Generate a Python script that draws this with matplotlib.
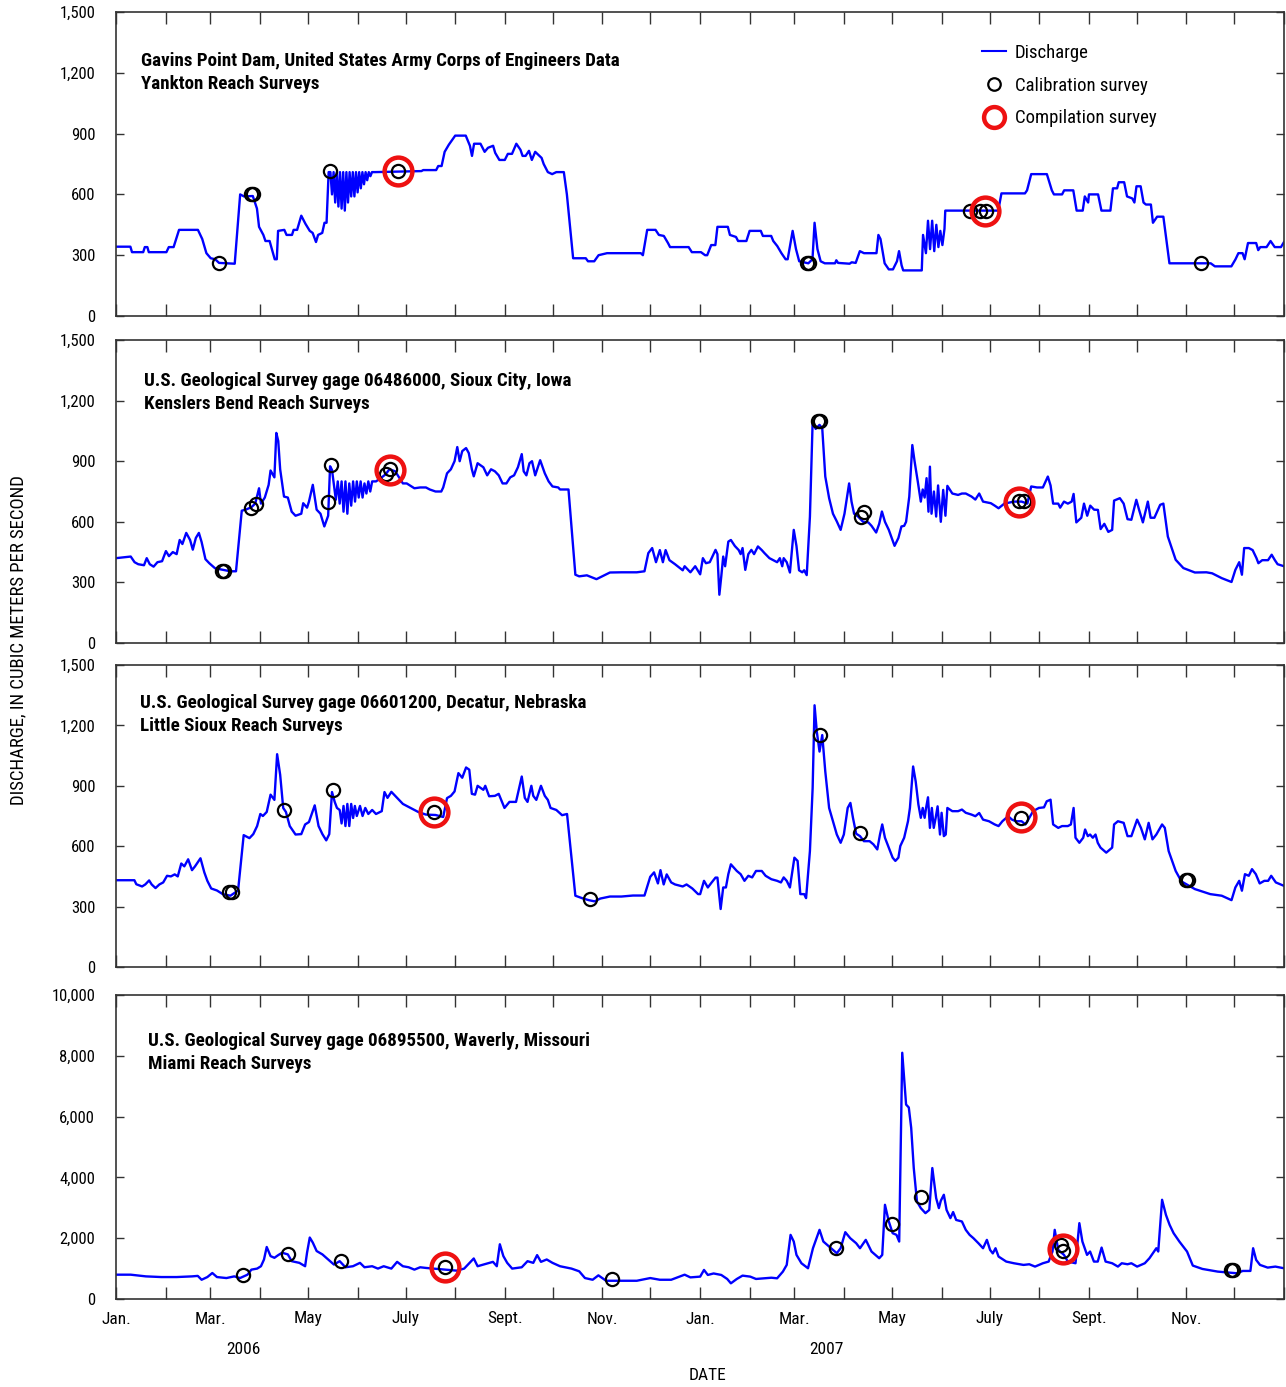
import numpy as np
import pandas as pd
import matplotlib
matplotlib.use('Agg')
import matplotlib.pyplot as plt
import matplotlib.dates as mdates
from matplotlib.lines import Line2D
from matplotlib.ticker import FuncFormatter, MultipleLocator

plt.rcParams['font.family'] = ['Liberation Sans Narrow', 'Roboto Condensed', 'DejaVu Sans']
plt.rcParams['font.stretch'] = 'condensed'

START = pd.Timestamp('2006-01-01')

# days counted from 1 Jan 2006, discharge in m3/s
gavins_day = [0, 9, 10, 17, 18, 19.6, 20.5, 31.5, 33, 36, 39.4, 51.2, 53.9, 56.5, 59.2, 62, 64.4, 74.2, 77.6, 80, 85.5,
              88.1, 89.4, 92.1, 93.4, 96, 97.4, 99.2, 100.5, 101.3, 105.2, 106.6, 110, 111, 113.2, 115.8, 118.4, 121.1,
              122.9, 125, 126.3, 128.9, 130.3, 131.6, 132.9,
              134, 135, 136, 137, 138, 139, 140, 141, 142, 143, 144, 145, 146, 147, 148, 149, 150, 151, 152, 153, 154,
              155, 156, 157, 158, 159, 160,
              161.9, 190.9, 192, 200.1, 201.4, 203.5, 205.4, 208, 212, 218.6, 221.2, 222.5, 223.8, 227.8, 230.4, 232.5,
              235.7, 237, 239.6, 243, 244.9, 247.5, 250.2, 252.8, 254.1, 256, 258.1, 259.9, 262, 266, 267.3, 269.9,
              272.6, 275.2, 279.9, 281.8, 285.7, 293.6, 295, 298.9, 301.6, 306.9, 328, 329.3,
              332, 337.2, 339.3, 342.4, 345, 346.3, 357.9, 359.9, 365.6, 368.2, 369.5, 372, 374.6, 375.9, 382.4, 383.7,
              387.5, 388.8, 394, 396, 403, 404.3, 409.5, 410.8, 413.3, 415.9, 418.5, 419.8, 422.9, 425, 427, 432.7,
              435.3, 436.6, 438.4, 440.4, 443, 449.4, 450.2, 451.3, 458.5, 459.8, 462.3, 464.9, 467.5, 475.3, 476.5,
              477.8, 480.4, 483, 485.6, 488.1, 489.4, 491, 492, 503.6, 504.4, 506.2, 507.5, 508.8, 510.1, 511.4, 512.7,
              514, 515.2, 516.5, 517.8, 518.3, 551.4, 553.4, 568.1, 569.4, 572, 581.8, 584.9, 586.2, 591.3, 592.6,
              598.3, 600.4, 604.2, 605.5, 607.6, 608.1, 613.8, 615.9, 621.5, 623.1, 625.7, 626.7, 630.1, 631.9, 635.2,
              636.5, 637.8, 640.4, 642.2, 643.7, 646.8, 648.1, 650.7, 654.6, 658.4, 684.2, 686.8, 697.1, 699.7, 701.5,
              704.1, 705.4, 707.5, 712.6, 713.9, 715.2, 719.1, 721.6, 724.2, 728.1, 730]
gavins_q = [342, 342, 315, 315, 340, 340, 315, 315, 340, 340, 425, 425, 380, 310, 285, 280, 262, 258, 600, 590, 592,
            530, 440, 400, 370, 370, 330, 280, 280, 420, 425, 400, 400, 425, 425, 495, 455, 420,
            410, 365, 400, 410, 460, 460, 710,
            710, 600, 710, 560, 710, 540, 710, 530, 710, 520, 710, 560, 710, 590, 710, 590, 710, 610, 710, 630, 710,
            650, 710, 670, 710, 690, 710,
            710, 715, 720, 720, 740, 740, 810, 845, 890, 890, 840, 790, 850, 850, 810, 830,
            840, 805, 770, 770, 800, 800, 850, 820, 790, 790, 815, 770, 810, 780, 750, 710,
            700, 710, 710, 600, 285, 285, 270, 270, 300, 310, 310, 300,
            425, 425, 400, 395, 360, 340, 340, 315, 315, 300, 300, 350, 350, 440, 440, 400,
            390, 370, 370, 420, 420, 395, 395, 370, 345, 310, 280, 280, 420, 330, 270, 260,
            280, 460, 330, 270, 260, 260, 275, 262, 258, 265, 262, 320, 310, 310, 400,
            380, 260, 230, 230, 270, 320, 250, 225, 225, 400, 310, 470, 330, 470, 320, 450,
            340, 420, 350, 430, 520, 520, 605, 605, 620, 700, 700, 620, 600, 600, 620,
            620, 520, 520, 590, 560, 600, 600, 520, 520, 630, 630, 660, 660, 590, 580,
            560, 640, 640, 560, 550, 550, 460, 490, 490, 260, 260, 245, 245, 280, 310,
            310, 280, 360, 360, 325, 340, 340, 370, 340, 340, 365]
gavins_cal_day = [64.4, 84.5, 85.5, 133.7, 176, 432, 433, 533.5, 540, 544, 678]
gavins_cal_q = [262, 600, 600, 714, 714, 262, 262, 520, 520, 520, 262]
gavins_comp_day = [176, 543]
gavins_comp_q = [714, 520]

sioux_day = [0, 9.2, 11.6, 13.9, 17.5, 19.2, 21.1, 23.5, 25.9, 28.8, 31.2, 33.1, 35.5, 37.9, 39.8, 41.5, 43.9, 46.3,
             48, 49.9, 51.8, 53.5, 55.9, 58.3, 61.9, 71.5, 75, 78.6, 81, 84.6, 87, 89.4, 90.6, 93, 95.4, 96.6, 99,
             100.2, 101.4, 102.6, 105, 107.4, 109.8, 112.2, 115.8, 117, 119.4, 120.6, 123, 125.4, 127.8, 130.2, 132.6,
             133.8, 135, 137.4, 138.6, 139.8, 141, 142.2, 143.4, 144.6, 145.8, 147, 148.2, 149.4, 150.5, 151.7, 152.9,
             154.1, 155.3, 156.5, 157.7, 158.9, 160.1, 162.5, 166.1, 168.5, 170.9, 174.5, 179.3, 181.7, 186.5, 190.1,
             193.7, 196.1, 199.7, 203.3, 204.5, 206.9, 209.3, 211.6, 213.3, 214.8, 216.4, 218.8, 220.5, 222.4, 223.6,
             226, 229.6, 232, 234.4, 236.8, 239.2, 241.6, 244, 246.4, 248.8, 251.2, 253.6, 254.8, 256.5, 258.4, 260,
             262, 265.1, 268, 270.4, 272.8, 276.4, 277.5, 281.1, 282.8, 287.1, 289.5, 294.3, 300.3, 303.9, 308.7,
             315.9, 325.5, 330.3, 332.7, 335.1, 337.5, 339.9, 341.8, 343.5, 345.9, 349.4, 354.2, 355.4, 359, 362,
             365.1, 366.8, 368.7, 371.1, 374.7, 375.9, 377.1, 378.3, 379.5, 380.7, 382.7, 384.3, 386.8, 389.2, 390.4,
             391.6, 393.3, 395.2, 397.1, 398.8, 401.2, 403.6, 405.3, 408.4, 410.8, 413.2, 414.9, 416.4, 417.3, 419.2,
             421.2, 423.6, 425.3, 426.9, 428.9, 430.1, 431.7, 433.7, 435.4, 437.3, 439.7, 441.4, 443.3, 445.7, 448.1,
             450.5, 452.9, 455.3, 458.2, 459.7, 461.3, 463.8, 466.9, 470.2, 472.2, 475.1, 477, 478.7, 480.6, 483,
             486.6, 489, 490.9, 492.6, 493.8, 495.8, 497.7, 499.1, 501.1, 503, 504.2, 505.4, 506.6, 507.8, 508.7,
             509.7, 511.2, 512.6, 513.8, 515.5, 517, 518.4, 519.6, 522.7, 526.3, 528.7, 531.1, 534.7, 537.1, 539.5,
             541.9, 546.8, 549.2, 551.6, 555.2, 561.2, 566, 569.6, 572, 575.6, 579.3, 582.4, 584.1, 585.7, 588.9,
             590.1, 592.5, 594.9, 597.3, 598.5, 600.2, 603.3, 605, 607, 608.9, 611.3, 613.7, 615.4, 617.7, 620.2,
             622.6, 623.8, 627.4, 629.8, 632.2, 634.6, 637.7, 639.4, 641.8, 644.9, 646.6, 649, 652.6, 654.6, 657.4,
             662.3, 667.1, 674.3, 681.5, 685.1, 691.1, 697.2, 699.6, 702, 703.7, 705.1, 708, 710.4, 712.8, 714,
             716.4, 720, 722.3, 724.3, 726, 730]
sioux_q = [420, 428, 400, 390, 385, 420, 390, 378, 400, 405, 455, 430, 450, 440, 510, 490, 545, 510,
           462, 520, 545, 500, 415, 395, 370, 355, 355, 655, 660, 672, 690, 766, 690, 720, 783, 854, 820,
           1040, 1000, 860, 725, 720, 650, 630, 640, 692, 670, 700, 783, 660, 640, 577, 630,
           875, 857, 709, 800, 690, 800, 650, 800, 640, 790, 680, 800, 700, 800, 720, 800,
           720, 790, 740, 800, 750, 800, 800, 820, 835, 860, 850, 790, 790, 766, 770,
           770, 760, 750, 750, 770, 840, 860, 900, 970, 900, 950, 965, 940, 860, 825,
           890, 870, 830, 860, 850, 830, 790, 790, 820, 830, 870, 935, 850, 830, 890, 900,
           830, 905, 840, 800, 775, 770, 760, 760, 760, 338, 330, 335, 316, 330, 349,
           350, 350, 355, 445, 470, 400, 460, 400, 460, 410, 390, 360, 380, 350, 380,
           340, 420, 395, 400, 461, 440, 239, 330, 428, 380, 502, 510, 480, 460, 440,
           470, 362, 440, 461, 440, 478, 460, 445, 420, 410, 400, 420, 380, 420, 400,
           349, 560, 480, 360, 350, 360, 336, 626, 1096, 1060, 1080, 1063, 824, 717, 640,
           602, 560, 640, 790, 700, 640, 626, 600, 597, 580, 547, 590, 651, 600, 560,
           481, 520, 577, 580, 600, 725, 980, 900, 800, 700, 760, 720, 816, 650, 873,
           640, 750, 626, 780, 600, 758, 630, 778, 740, 733, 740, 740, 725, 710, 740,
           700, 692, 680, 667, 690, 700, 700, 690, 775, 770, 770, 824, 780, 690, 690,
           670, 700, 690, 700, 738, 597, 620, 690, 630, 680, 660, 659, 564, 590, 550,
           560, 705, 717, 690, 613, 610, 709, 660, 597, 700, 620, 620, 684, 690, 527,
           412, 371, 349, 350, 345, 321, 302, 362, 400, 338, 470, 470, 460, 420, 395,
           410, 410, 437, 410, 390, 380]
sioux_cal_day = [66.5, 67.5, 84.5, 87.7, 132.7, 134.6, 169, 171, 439, 440.2, 465.9, 467.7, 564.2, 567.3]
sioux_cal_q = [356, 356, 668, 688, 698, 881, 837, 861, 1099, 1099, 624, 648, 703, 703]
sioux_comp_day = [171, 564.2]
sioux_comp_q = [856, 698]

decatur_day = [0, 11.5, 12.7, 16.3, 18.3, 20.7, 22.3, 24.7, 27.1, 29.5, 31.9, 34.3, 36.7, 38.6, 40.8, 42.7, 45.1,
               47.5, 49.4, 52.8, 55.2, 57.1, 59.5, 63.1, 66.7, 71.5, 76.3, 79.8, 83.4, 85.8, 88.2, 90.2, 91.8, 94.2,
               96.6, 99, 100.7, 102.6, 104.5, 106.2, 108.6, 112.2, 115.8, 118.2, 120.6, 124.2, 126.6, 129, 131.4,
               133.3, 135, 136.7, 138.1, 139.8, 141, 142.2, 143.4, 144.6, 145.8, 147, 148.2, 149.3, 150.5, 152.5,
               154.1, 155.8, 157.7, 160.1, 162.5, 166.1, 167.8, 169.7, 172.1, 175.7, 179.3, 184.1, 188.9, 193.7,
               199.7, 204.5, 206.9, 209.3, 211.6, 214, 216.4, 218.8, 220.8, 222.4, 224.4, 226, 229.6, 230.8, 233.2,
               236.8, 239.2, 242.8, 245.9, 250, 253.6, 255.5, 257.2, 259.6, 260.8, 262.7, 265.6, 268, 269.9, 271.6,
               275.2, 278.8, 281.9, 287.1, 292, 295.5, 299.1, 302.7, 308.7, 315.9, 323.1, 330.3, 333.9, 336.3, 338.7,
               340.3, 342.3, 344.2, 347, 349.4, 354.2, 356.6, 360.2, 363.8,
               365.1, 367.5, 369.9, 372.3, 374.7, 375.9, 377.9, 379.5, 381.2, 382.7, 384.3, 388, 390.4, 392.8, 395.2,
               397.6, 400, 403.6, 406, 409.6, 413.2, 415.6, 417.3, 419.2, 421.2, 424, 426, 427.7, 430.1, 431.3, 433.7,
               435.4, 436.6, 438, 439.7, 441.4, 443.3, 445.7, 448.1, 450.5, 452.9, 454.9, 457.3, 459, 460.6, 462.6,
               465, 467.4, 471, 473.4, 475.8, 477.5, 478.9, 480.6, 483, 485.4, 487.1, 489, 490.2, 492.6, 495, 496.2,
               498.2, 499.8, 501.5, 503, 504.2, 505.4, 506.3, 507.5, 508.7, 509.9, 511.1, 512.3, 513.5, 515, 516,
               517.4, 518.6, 519.6, 522.7, 526.3, 528.7, 531.1, 534.7, 537.1, 539.5, 541.9, 545.6, 549.2, 551.6, 554,
               557.6, 560, 562.4, 566, 568.4, 570.8, 573.2, 576.8, 580, 581.7, 584.1, 585.7, 588.9, 591.3, 594.9,
               596.8, 598.5, 599.7, 602.1, 604.5, 605.7, 607.4, 608.8, 610.5, 612.2, 613.6, 615.3, 618.9, 622.6,
               623.8, 626.2, 629.8, 632.2, 634.6, 638.2, 640.6, 643, 645.4, 647.8, 650.2, 653.8, 655.5, 657.9, 662.3,
               665.9, 674.3, 683.9, 691.1, 697.2, 699.6, 702, 703.7, 705.6, 708, 710, 712.4, 714.8, 717.7, 720.1, 722,
               724.9, 730]
decatur_q = [431, 431, 411, 400, 410, 430, 410, 392, 410, 420, 453, 450, 460, 450, 514, 500, 535,
             481, 500, 540, 470, 428, 390, 380, 362, 354, 380, 655, 640, 660, 700, 760, 750, 770,
             856, 830, 1057, 955, 790, 770, 700, 658, 660, 708, 720, 803, 700, 660, 629,
             660, 869, 820, 790, 780, 713, 800, 700, 810, 700, 810, 740, 800, 750, 800,
             750, 790, 760, 780, 760, 774, 869, 840, 870, 840, 810, 790, 770, 757,
             755, 745, 839, 850, 872, 963, 940, 991, 980, 860, 856, 900, 880, 900, 848,
             850, 860, 790, 820, 820, 946, 840, 820, 900, 850, 830, 900, 850, 830, 790,
             780, 754, 760, 354, 340, 332, 326, 340, 350, 350, 355, 355, 448, 470, 415,
             481, 410, 460, 420, 410, 400, 410, 390, 362,
             362, 428, 395, 420, 444, 444, 288, 395, 395, 461, 510, 477, 461, 428, 453,
             445, 477, 477, 453, 436, 428, 420, 445, 428, 395, 543, 527, 362, 362, 342, 576,
             889, 1300, 1169, 1070, 1152, 971, 790, 724, 658, 617, 658, 790, 815, 741, 662,
             650, 625, 625, 609, 584, 658, 708, 642, 593, 543, 527, 543, 601, 642, 724, 790,
             996, 922, 807, 741, 790, 741, 790, 843, 691, 790, 691, 741, 798, 658, 766,
             650, 658, 790, 774, 774, 782, 766, 757, 749, 765, 732, 724, 708, 700, 724,
             749, 732, 724, 724, 708, 741, 774, 790, 793, 823, 831, 708, 691, 700, 700,
             708, 790, 642, 617, 642, 683, 650, 658, 642, 658, 617, 593, 568, 593,
             708, 724, 716, 650, 650, 732, 691, 634, 716, 634, 658, 708, 691, 576, 477,
             425, 387, 362, 354, 332, 395, 428, 379, 461, 453, 486, 461, 415, 428, 428, 453,
             420, 403]
decatur_cal_day = [70.8, 72.6, 105.2, 135.9, 198.5, 296.2, 440.2, 465.2, 565.4, 669, 670]
decatur_cal_q = [372, 372, 780, 879, 770, 338, 1152, 666, 740, 432, 432]
decatur_comp_day = [198.5, 565.4]
decatur_comp_q = [770, 745]

waverly_day = [0, 9.2, 18.7, 28.3, 37.9, 47.5, 51.1, 53.5, 57.1, 60.2, 63.1, 69, 73.9, 77.5, 82.2, 84.6, 88.2, 90.6,
               92.5, 94.2, 96.6, 99, 101.4, 103.8, 107.4, 109.8, 114.6, 118.2, 119.4, 121.1, 123, 125.4, 129, 132.6,
               136.2, 139.8, 143.4, 148.1, 152.5, 155.3, 160.1, 163.7, 167.3, 172.1, 175.7, 179.3, 182.9, 186.5,
               190.1, 193.7, 198.5, 205.7, 212.9, 217.6, 223.6, 226, 229.6, 235.6, 238, 239.9, 242.1, 244.5, 247.6,
               253.6, 257.2, 260.8, 263.2, 265.6, 269.2, 272.8, 277.5, 284.7, 289.5, 293.1, 297.9, 301.5, 306.3,
               313.5, 325.5, 333.9, 339.9, 347, 355.4, 359,
               365.1, 367.5, 369.9, 373.5, 378.3, 382, 384.3, 388, 391.6, 396.4, 400, 404.8, 409.6, 413.2, 416.8,
               419.2, 421.6, 423.6, 425.3, 428.4, 432.5, 435.6, 439.7, 442.1, 445.7, 450.5, 452.9, 455.8, 458.9,
               462.6, 465, 468.6, 472.2, 477, 478.9, 480.6, 483, 485.4, 487.8, 489.5, 491.4, 493.8, 495.5, 497, 498.6,
               500.6, 503, 505.9, 508.3, 510.2, 512.6, 514.3, 515.5, 517.4, 519.1, 521.5, 523.2, 525.1, 528.7, 531.1,
               533.5, 535.9, 539, 541.9, 544.3, 546.3, 548, 549.7, 551.6, 556.4, 561.2, 567.2, 570.8, 574.4, 579.3,
               582.9, 585.3, 586.7, 588.9, 592.5, 594.9, 599.7, 602.1, 604, 606.9, 608.8, 611.2, 613.6, 616, 618.5,
               622.6, 626.2, 628.6, 632.2, 634.6, 638.2, 643, 645.9, 650.2, 651.4, 653.8, 656.2, 658.5, 661, 664.6,
               669.4, 673, 679, 688.6, 693.4, 700.6, 704.2, 709, 710.7, 712.6, 715, 719.8, 724.6, 730]
waverly_q = [800, 800, 744, 722, 722, 744, 760, 633, 722, 855, 722, 689, 744, 689, 800, 966, 1000, 1078,
             1300, 1711, 1411, 1355, 1444, 1522, 1467, 1244, 1189, 1078, 1522, 2022, 1855, 1578, 1467, 1300,
             1133, 1244, 1044, 1078, 1189, 1044, 1078, 1000, 1078, 1000, 1222, 1078, 1044, 966,
             1044, 1022, 1000, 966, 933, 1000, 1333, 1078, 1133, 1222, 1078, 1800, 1411, 1189, 1000,
             1044, 1244, 1189, 1444, 1222, 1300, 1189, 1078, 1000, 911, 689, 633, 778, 600,
             600, 600, 689, 633, 633, 800, 711,
             736, 956, 791, 840, 791, 659, 516, 659, 769, 736, 659, 681, 700, 681, 901,
             1121, 2110, 1890, 1451, 1176, 1011, 1670, 2275, 1890, 1725, 1506, 1670, 2198, 2000,
             1835, 1670, 1945, 1561, 1341, 1450, 3099, 2550, 2165, 2110, 1890, 8100, 6396, 6300, 5627, 4308,
             3209, 2989, 2824, 2930, 4308, 3319, 2989, 3231, 3429, 2930, 2660, 2860, 2600, 2550, 2275,
             2110, 2000, 1835, 1670, 1945, 1615, 1500, 1670, 1396, 1231, 1176, 1121, 1143, 1066, 1176,
             1231, 1560, 2275, 1615, 1451, 1231, 1176, 2495, 1890, 1451, 1561, 1231, 1231, 1692, 1231,
             1176, 1066, 1176, 1143, 1176, 1066, 1176, 1341, 1670, 1561, 3264, 2769, 2440, 2165, 1890,
             1561, 1099, 989, 901, 880, 846, 923, 923, 1670, 1286, 1121, 1033, 1066, 1011]
waverly_cal_day = [79.5, 107.7, 140.9, 205.4, 310, 450.2, 485.3, 503.4, 590.5, 591.7, 697, 698]
waverly_cal_q = [790, 1480, 1250, 1053, 658, 1680, 2470, 3356, 1777, 1580, 954, 954]
waverly_comp_day = [205.4, 591.7]
waverly_comp_q = [1053, 1645]

titles = [('Gavins Point Dam, United States Army Corps of Engineers Data', 'Yankton Reach Surveys'),
          ('U.S. Geological Survey gage 06486000, Sioux City, Iowa', 'Kenslers Bend Reach Surveys'),
          ('U.S. Geological Survey gage 06601200, Decatur, Nebraska', 'Little Sioux Reach Surveys'),
          ('U.S. Geological Survey gage 06895500, Waverly, Missouri', 'Miami Reach Surveys')]
month_names = {1: 'Jan.', 3: 'Mar.', 5: 'May', 7: 'July', 9: 'Sept.', 11: 'Nov.'}


def to_dates(days):
    return START + pd.to_timedelta(np.asarray(days, dtype=float), unit='D')


def month_label(v, pos):
    d = mdates.num2date(v)
    if d.year > 2007:
        return ''
    return month_names.get(d.month, '')


W, H = 1286, 1387
fig = plt.figure(figsize=(W / 100, H / 100), dpi=100)

# pixel boxes (top, bottom) of each panel
boxes = [(12, 316), (340, 643), (665, 967), (995, 1299)]
panels = [
    (gavins_day, gavins_q, gavins_cal_day, gavins_cal_q, gavins_comp_day, gavins_comp_q, 1500, 300, (141, 61)),
    (sioux_day, sioux_q, sioux_cal_day, sioux_cal_q, sioux_comp_day, sioux_comp_q, 1500, 300, (144, 381)),
    (decatur_day, decatur_q, decatur_cal_day, decatur_cal_q, decatur_comp_day, decatur_comp_q, 1500, 300, (140, 703)),
    (waverly_day, waverly_q, waverly_cal_day, waverly_cal_q, waverly_comp_day, waverly_comp_q, 10000, 2000, (148, 1041)),
]

left, right = 116, 1284
for i, ((top, bot), p) in enumerate(zip(boxes, panels)):
    day, q, cday, cq, kday, kq, ymax, ystep, (tx, ty) = p
    ax = fig.add_axes([left / W, 1 - bot / H, (right - left) / W, (bot - top) / H])
    ax.plot(to_dates(day), q, color='#0000ff', lw=1.7, zorder=2)
    ax.plot(to_dates(cday), cq, 'o', ms=9.5, mfc='none', mec='black', mew=1.6, zorder=3)
    ax.plot(to_dates(kday), kq, 'o', ms=20, mfc='none', mec='#ee1111', mew=3.2, zorder=4)

    ax.set_xlim(START, pd.Timestamp('2008-01-01'))
    ax.set_ylim(0, ymax)
    ax.yaxis.set_major_locator(MultipleLocator(ystep))
    ax.yaxis.set_major_formatter(FuncFormatter(lambda v, pos: f'{v:,.0f}'))
    ax.xaxis.set_major_locator(mdates.MonthLocator())
    ax.xaxis.set_major_formatter(FuncFormatter(month_label))
    ax.tick_params(axis='x', direction='in', length=8.5, width=1, top=True, bottom=True,
                   labelbottom=(i == 3), labelsize=12.5, pad=9, color='#333333')
    ax.tick_params(axis='y', direction='in', length=6, width=1, left=True, right=True,
                   labelsize=12, pad=15, color='#333333')
    for s in ax.spines.values():
        s.set_linewidth(1.2)
        s.set_color('#333333')

    xa = (tx - left) / (right - left)
    for k, line in enumerate(titles[i]):
        ax.text(xa, (bot - ty - 23 * k) / (bot - top), line, transform=ax.transAxes,
                ha='left', va='center', fontsize=13.7, fontweight='bold')

    if i == 0:
        handles = [Line2D([], [], color='#0000ff', lw=1.5),
                   Line2D([], [], ls='none', marker='o', ms=9, mfc='none', mec='black', mew=1.6),
                   Line2D([], [], ls='none', marker='o', ms=15, mfc='none', mec='#ee1111', mew=3.2)]
        ax.legend(handles, ['Discharge', 'Calibration survey', 'Compilation survey'],
                  loc='upper left', bbox_to_anchor=((982 - left) / (right - left), (bot - 44) / (bot - top)),
                  frameon=False, fontsize=13.5, handlelength=1.3, handletextpad=0.45,
                  labelspacing=0.78, borderpad=0, borderaxespad=0)

fig.text(18 / W, 1 - 640 / H, 'DISCHARGE, IN CUBIC METERS PER SECOND', rotation=90,
         ha='center', va='center', fontsize=13.5)
fig.text(243 / W, 1 - 1350 / H, '2006', ha='center', va='center', fontsize=12.5)
fig.text(826 / W, 1 - 1350 / H, '2007', ha='center', va='center', fontsize=12.5)
fig.text(708 / W, 1 - 1376 / H, 'DATE', ha='center', va='center', fontsize=12.5)

fig.savefig('out.png', dpi=100)
